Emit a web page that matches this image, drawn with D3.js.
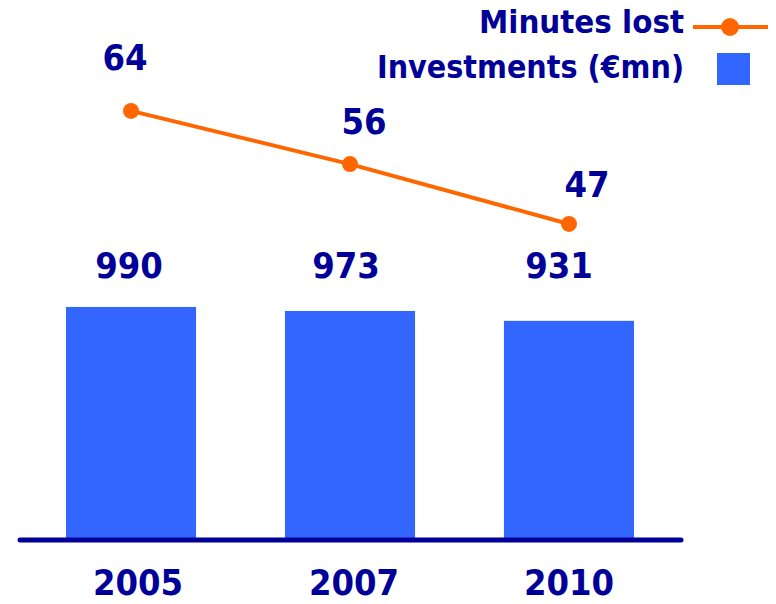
<!DOCTYPE html>
<html>
<head>
<meta charset="utf-8">
<script src="https://cdn.jsdelivr.net/npm/d3@7"></script>
<style>
  html, body { margin: 0; padding: 0; background: #fff; }
  svg text { font-family: "DejaVu Sans Condensed", "DejaVu Sans", sans-serif; font-weight: bold; fill: #000099; }
</style>
</head>
<body>
<svg id="chart" width="776" height="604"></svg>
<script>
// Chart data
const years = ["2005", "2007", "2010"];
const investments = [990, 973, 931];   // €mn
const minutesLost = [64, 56, 47];

const legendLabels = ["Minutes lost", "Investments (€mn)"];

// Colours
const navy = "#000099";
const barBlue = "#3366ff";
const orange = "#ff6600";

const svg = d3.select("#chart");

// Scales
const x = d3.scaleBand()
  .domain(years)
  .range([20, 680])
  .paddingInner(0.406)
  .paddingOuter(0.21);

const yBar = d3.scaleLinear().domain([0, 1000]).range([540, 304.6]);
const yLine = d3.scaleLinear().domain([40, 70]).range([270.5, 71]);

const cx = d => x(d) + x.bandwidth() / 2;

// Bars
svg.append("g").selectAll("rect")
  .data(years)
  .join("rect")
  .attr("x", d => x(d))
  .attr("y", (d, i) => yBar(investments[i]))
  .attr("width", x.bandwidth())
  .attr("height", (d, i) => yBar(0) - yBar(investments[i]))
  .attr("fill", barBlue);

// Baseline axis
const axis = svg.append("g").attr("transform", `translate(0,${yBar(0)})`)
  .call(d3.axisBottom(x).tickSize(0).tickPadding(0));
axis.select(".domain").remove();
axis.selectAll(".tick text").remove();
axis.append("line")
  .attr("x1", 20).attr("x2", 681)
  .attr("stroke", navy).attr("stroke-width", 5).attr("stroke-linecap", "round");

// Year labels
const yearNudge = [7, 4, 0];
svg.append("g").selectAll("text")
  .data(years)
  .join("text")
  .attr("x", (d, i) => cx(d) + yearNudge[i])
  .attr("y", 595)
  .attr("text-anchor", "middle")
  .attr("font-size", 36)
  .text(d => d);

// Bar value labels, set in a row above the bars
const barNudge = [-2, -4, -10];
svg.append("g").selectAll("text")
  .data(investments)
  .join("text")
  .attr("x", (d, i) => cx(years[i]) + barNudge[i])
  .attr("y", 278)
  .attr("text-anchor", "middle")
  .attr("font-size", 36)
  .text(d => d);

// Line series
const pts = years.map((d, i) => [cx(d), yLine(minutesLost[i])]);
svg.append("path")
  .attr("d", d3.line()(pts))
  .attr("fill", "none")
  .attr("stroke", orange)
  .attr("stroke-width", 4);

svg.append("g").selectAll("circle")
  .data(pts)
  .join("circle")
  .attr("cx", d => d[0])
  .attr("cy", d => d[1])
  .attr("r", 8)
  .attr("fill", orange);

// Line value labels
const lineNudgeX = [-6, 14, 18];
const lineNudgeY = [-41, -30, -27];
svg.append("g").selectAll("text")
  .data(minutesLost)
  .join("text")
  .attr("x", (d, i) => pts[i][0] + lineNudgeX[i])
  .attr("y", (d, i) => pts[i][1] + lineNudgeY[i])
  .attr("text-anchor", "middle")
  .attr("font-size", 36)
  .text(d => d);

// Legend
const legend = svg.append("g");
legend.append("text")
  .attr("x", 684).attr("y", 33)
  .attr("text-anchor", "end")
  .attr("font-size", 32)
  .attr("textLength", 205)
  .attr("lengthAdjust", "spacingAndGlyphs")
  .text(legendLabels[0]);
legend.append("line")
  .attr("x1", 693).attr("x2", 768).attr("y1", 27).attr("y2", 27)
  .attr("stroke", orange).attr("stroke-width", 4);
legend.append("circle")
  .attr("cx", 730).attr("cy", 27).attr("r", 9)
  .attr("fill", orange);
legend.append("text")
  .attr("x", 684).attr("y", 78)
  .attr("text-anchor", "end")
  .attr("font-size", 32)
  .attr("textLength", 307)
  .attr("lengthAdjust", "spacingAndGlyphs")
  .text(legendLabels[1]);
legend.append("rect")
  .attr("x", 717).attr("y", 53).attr("width", 33).attr("height", 32)
  .attr("fill", barBlue);
</script>
</body>
</html>
